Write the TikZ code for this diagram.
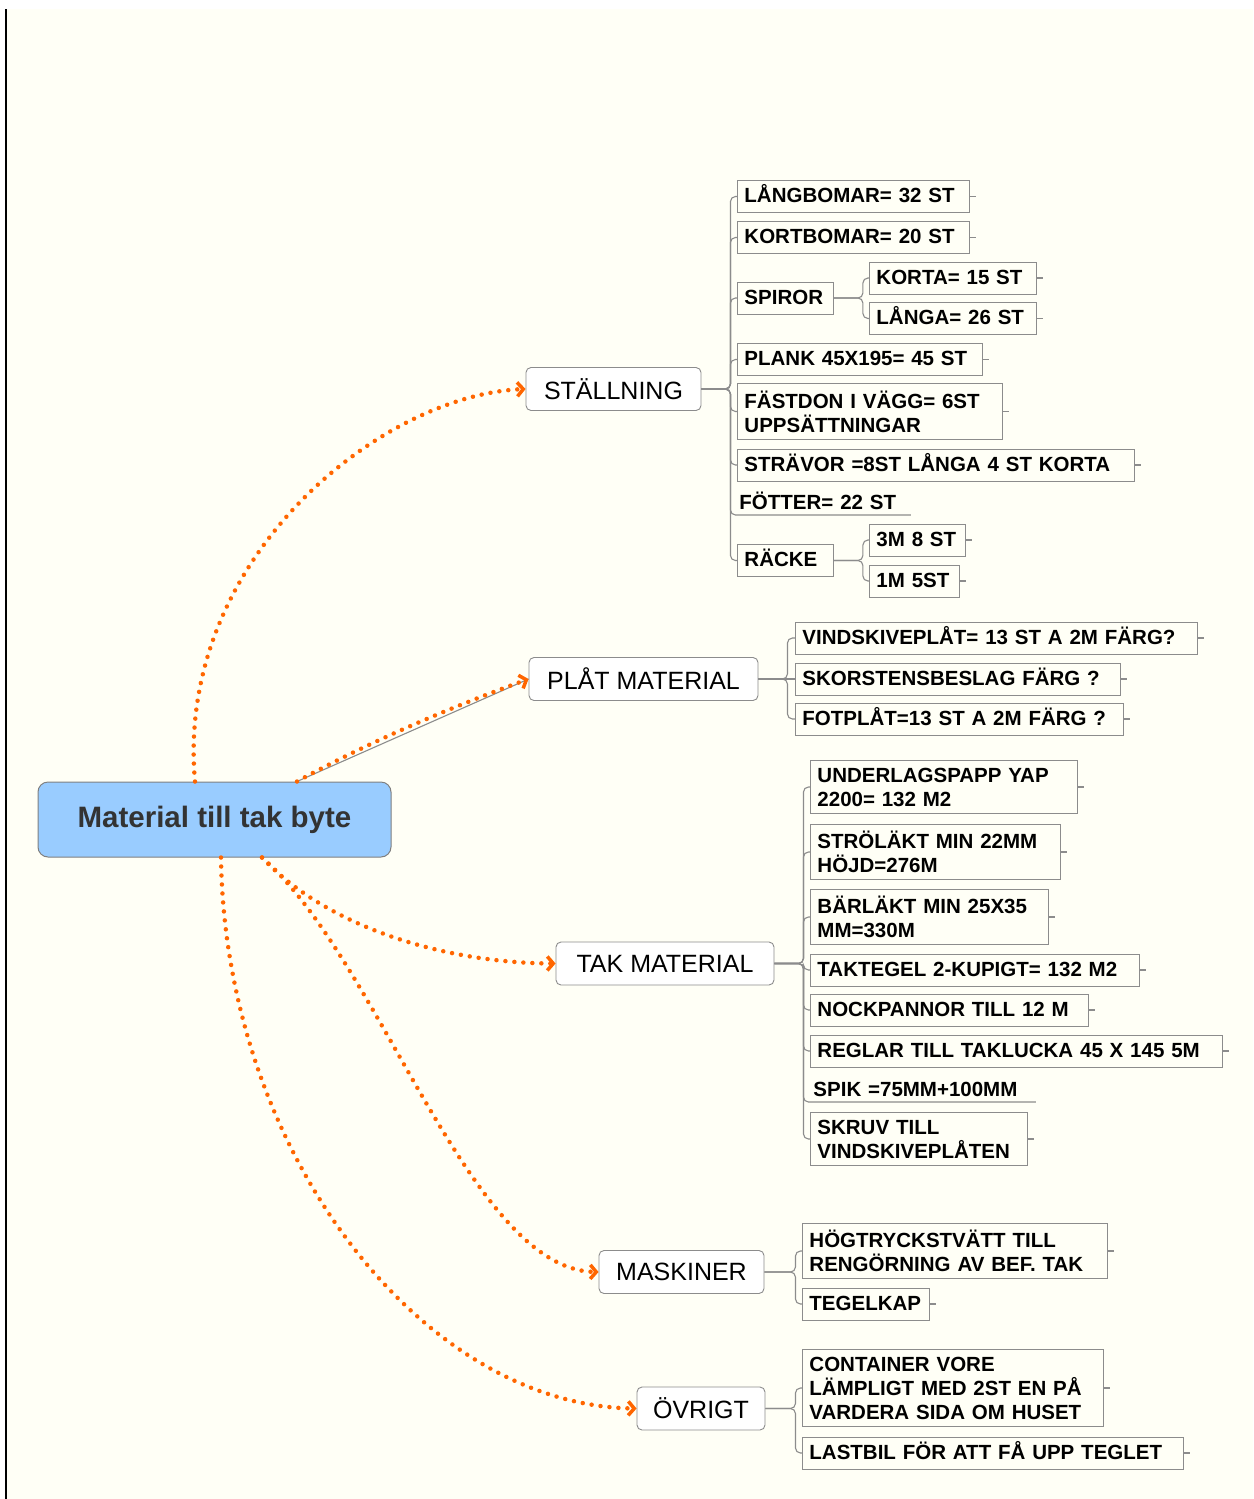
\documentclass[tikz,border=0pt]{standalone}
\usepackage{fontspec}
\setmainfont{Liberation Sans}
\usetikzlibrary{arrows.meta}
\definecolor{paper}{RGB}{255,255,246}
\definecolor{rootblue}{RGB}{153,204,255}
\definecolor{rootgray}{RGB}{128,128,128}
\definecolor{roottext}{RGB}{51,51,51}
\definecolor{boxgray}{RGB}{140,140,140}
\definecolor{flowor}{RGB}{255,102,0}
\newcommand\rootfont{\fontsize{29.5}{35}\selectfont\bfseries}
\newcommand\topicfont{\fontsize{25}{30}\selectfont}
\newcommand\itemfont{\fontsize{20.5}{24}\selectfont\bfseries}

\begin{document}
\begin{tikzpicture}[x=1pt,y=-1pt]
				\tikzstyle{central}=[draw=rootgray,fill=rootblue,rounded corners=10pt,line width=1pt,
				minimum width=353pt,minimum height=75pt,text=roottext,font=\rootfont]
				\tikzstyle{topic}=[draw=boxgray,fill=white,rounded corners=5pt,line width=0.9pt,
				minimum height=43pt,inner xsep=0pt,font=\topicfont]
				\tikzstyle{item}=[draw=boxgray,line width=0.9pt,anchor=west,inner xsep=7pt,align=left,font=\itemfont]
				\tikzstyle{leaf}=[item,inner ysep=6pt,text height=16pt,text depth=4pt]
				\tikzstyle{leafmulti}=[item,inner ysep=7pt]
				\tikzstyle{bare}=[leaf,draw=none,inner ysep=1pt]
				\tikzstyle{branch}=[draw=boxgray,line width=1.1pt,rounded corners=5pt]
				\tikzstyle{flow}=[draw=flowor,line width=4.5pt,line cap=round,dash pattern=on 0pt off 9pt,
				-{Straight Barb[length=6pt,width=14pt,line width=3.5pt]}]
				\useasboundingbox (0,0) rectangle (1253,1499);
				% paper
				\fill[white] (0,0) rectangle (1253,1499);
				\fill[paper] (7,9) rectangle (1253,1499);
				\draw[black,line width=2pt] (6,9) -- (6,1499);
				% centre and main topics
				\node[central] (root) at (214.5,819.5) {Material till tak byte\hspace{12pt}};
				\node[topic,minimum width=175pt] (stal) at (613.5,389) {STÄLLNING};
				\node[topic,minimum width=229pt] (plat) at (643.5,679) {PLÅT MATERIAL};
				\node[topic,minimum width=218pt] (tak) at (665,963.5) {TAK MATERIAL};
				\node[topic,minimum width=165pt] (mask) at (681.5,1272) {MASKINER};
				\node[topic,minimum width=128pt] (ovr) at (701,1408.5) {ÖVRIGT};
				% ställning
				\node[leaf,text width=218pt] (lang) at (737,196.5) {LÅNGBOMAR= 32 ST};
				\node[leaf,text width=218pt] (kort) at (737,237.5) {KORTBOMAR= 20 ST};
				\node[leaf,text width=82pt] (spir) at (737,298) {SPIROR};
				\node[leaf,text width=153pt] (korta) at (869,278) {KORTA= 15 ST};
				\node[leaf,text width=153pt] (langa) at (869,318.5) {LÅNGA= 26 ST};
				\node[leaf,text width=231pt] (plank) at (737,359.5) {PLANK 45X195= 45 ST};
				\node[leafmulti,text width=251pt] (fast) at (737,411.5) {FÄSTDON I VÄGG= 6ST\\UPPSÄTTNINGAR};
				\node[leaf,text width=383pt] (strav) at (737,465) {STRÄVOR =8ST LÅNGA 4 ST KORTA};
				\node[bare,anchor=south west,text width=164pt] (fott) at (732,515) {FÖTTER= 22 ST};
				\node[leaf,text width=82pt] (racke) at (737,560.5) {RÄCKE};
				\node[leaf,text width=82pt] (m3) at (869,540) {3M 8 ST};
				\node[leaf,text width=76pt] (m1) at (869,581) {1M 5ST};
				% plåt
				\node[leaf,text width=388pt] (vind) at (795,638) {VINDSKIVEPLÅT= 13 ST A 2M FÄRG?};
				\node[leaf,text width=311pt] (skor) at (795,679) {SKORSTENSBESLAG FÄRG ?};
				\node[leaf,text width=314pt] (fotp) at (795,719) {FOTPLÅT=13 ST A 2M FÄRG ?};
				% tak
				\node[leafmulti,text width=253pt] (under) at (810,787) {UNDERLAGSPAPP YAP\\2200= 132 M2};
				\node[leafmulti,text width=236pt] (strol) at (810,852) {STRÖLÄKT MIN 22MM\\HÖJD=276M};
				\node[leafmulti,text width=224pt] (barl) at (810,917) {BÄRLÄKT MIN 25X35\\MM=330M};
				\node[leaf,text width=315pt] (takt) at (810,970) {TAKTEGEL 2-KUPIGT= 132 M2};
				\node[leaf,text width=264pt] (nock) at (810,1010) {NOCKPANNOR TILL 12 M};
				\node[leaf,text width=398pt] (regl) at (810,1051) {REGLAR TILL TAKLUCKA 45 X 145 5M};
				\node[bare,anchor=south west,text width=215pt] (spik) at (806,1102) {SPIK =75MM+100MM};
				\node[leafmulti,text width=203pt] (skruv) at (810,1139) {SKRUV TILL\\VINDSKIVEPLÅTEN};
				% maskiner
				\node[leafmulti,text width=291pt] (hogt) at (802,1251) {HÖGTRYCKSTVÄTT TILL\\RENGÖRNING AV BEF. TAK};
				\node[leaf,text width=113pt] (tegel) at (802,1304) {TEGELKAP};
				% övrigt
				\node[leafmulti,text width=287pt] (cont) at (802,1388) {CONTAINER VORE\\LÄMPLIGT MED 2ST EN PÅ\\VARDERA SIDA OM HUSET};
				\node[leaf,text width=367pt] (last) at (802,1453) {LASTBIL FÖR ATT FÅ UPP TEGLET};
				% branches
				\foreach \c in {lang,kort,spir,plank,fast,strav,racke}
				\draw[branch] (stal.east) -- ++(29,0) |- (\c.west);
				\draw[branch] (stal.east) -- ++(29,0) |- (fott.south east);
				\foreach \c in {korta,langa}
				\draw[branch] (spir.east) -- ++(29,0) |- (\c.west);
				\foreach \c in {m3,m1}
				\draw[branch] (racke.east) -- ++(29,0) |- (\c.west);
				\foreach \c in {vind,fotp}
				\draw[branch] (plat.east) -- ++(29,0) |- (\c.west);
				\draw[branch] (plat.east) -- (skor.west);
				\foreach \c in {under,strol,barl,takt,nock,regl,skruv}
				\draw[branch] (tak.east) -- ++(29,0) |- (\c.west);
				\draw[branch] (tak.east) -- ++(29,0) |- (spik.south east);
				\foreach \c in {hogt,tegel}
				\draw[branch] (mask.east) -- ++(31,0) |- (\c.west);
				\foreach \c in {cont,last}
				\draw[branch] (ovr.east) -- ++(30,0) |- (\c.west);
				% stubs
				\foreach \c in {lang,kort,korta,langa,plank,fast,strav,m3,m1,vind,skor,fotp,
				under,strol,barl,takt,nock,regl,skruv,hogt,tegel,cont,last}
				\draw[branch] (\c.east) -- ++(6,0);
				% relations
				\draw[branch] ([xshift=82.5pt]root.north) -- (plat.west);
				\draw[flow] ([xshift=-19.5pt]root.north) .. controls (175,560) and (380,395) .. (stal.west);
				\draw[flow] ([xshift=82.5pt]root.north) .. controls (371,741) and (449,708) .. (plat.west);
				\draw[flow] ([xshift=47.5pt]root.south) .. controls (330,930) and (450,963) .. (tak.west);
				\draw[flow] ([xshift=47.5pt]root.south) .. controls (380,960) and (470,1270) .. (mask.west);
				\draw[flow] ([xshift=6.5pt]root.south) .. controls (225,1150) and (420,1405) .. (ovr.west);
\end{tikzpicture}
\end{document}
